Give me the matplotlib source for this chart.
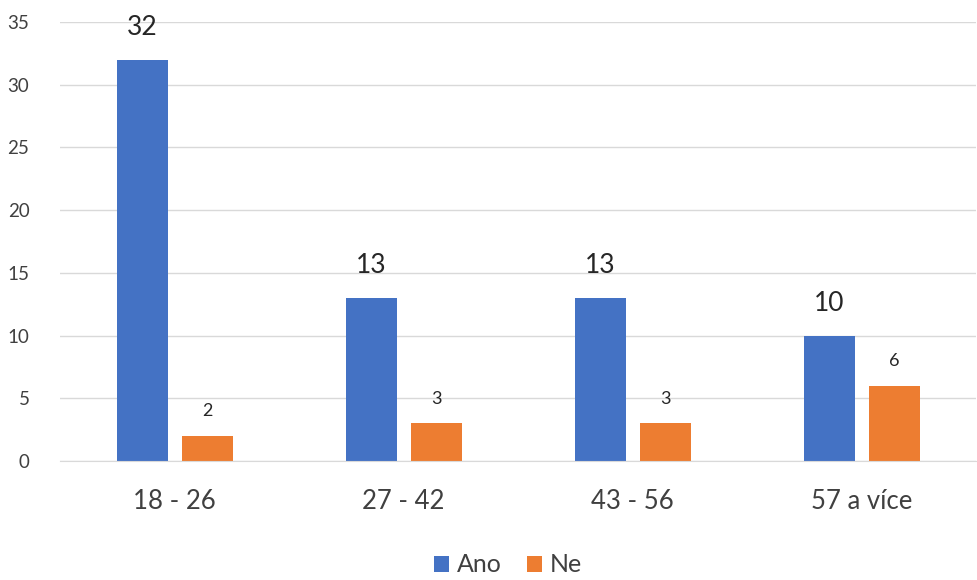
import numpy as np
import matplotlib.pyplot as plt

categories = ['18 - 26', '27 - 42', '43 - 56', '57 a více']
ano = [32, 13, 13, 10]
ne = [2, 3, 3, 6]

plt.rcParams['font.family'] = ['Lato', 'DejaVu Sans']

fig = plt.figure(figsize=(9.77, 5.8), dpi=100)
ax = fig.add_axes([60 / 977, 119 / 580, 916 / 977, 439 / 580])

x = np.arange(len(categories))
w = 0.223
b1 = ax.bar(x - 0.14, ano, w, color='#4472C4', label='Ano', zorder=3)
b2 = ax.bar(x + 0.145, ne, w, color='#ED7D31', label='Ne', zorder=3)

for rect, v in zip(b1, ano):
    ax.annotate(str(v), (rect.get_x() + rect.get_width() / 2, v),
                xytext=(0, 14), textcoords='offset points',
                ha='center', va='bottom', fontsize=19, color='#262626')
for rect, v in zip(b2, ne):
    ax.annotate(str(v), (rect.get_x() + rect.get_width() / 2, v),
                xytext=(0, 12), textcoords='offset points',
                ha='center', va='bottom', fontsize=13, color='#262626')

ax.set_xlim(-0.5, 3.5)
ax.set_ylim(0, 35)
ax.set_yticks(range(0, 36, 5))
ax.set_xticks(x)
ax.set_xticklabels(categories, fontsize=18.5, color='#404040')
ax.tick_params(axis='y', labelsize=13.5, colors='#404040', length=0, pad=22)
ax.tick_params(axis='x', length=0, pad=20)
ax.yaxis.grid(True, color='#D9D9D9', linewidth=1, zorder=0)
for s in ['top', 'right', 'left']:
    ax.spines[s].set_visible(False)
ax.spines['bottom'].set_color('#D9D9D9')
ax.spines['bottom'].set_zorder(4)

fig.legend(handles=[b1, b2], labels=['Ano', 'Ne'], loc='center',
           bbox_to_anchor=(0.52, 0.026), ncol=2, frameon=False, fontsize=18,
           handlelength=0.6, handleheight=0.6, handletextpad=0.3,
           columnspacing=1.0, labelcolor='#404040')

fig.savefig('out.png', dpi=100)
